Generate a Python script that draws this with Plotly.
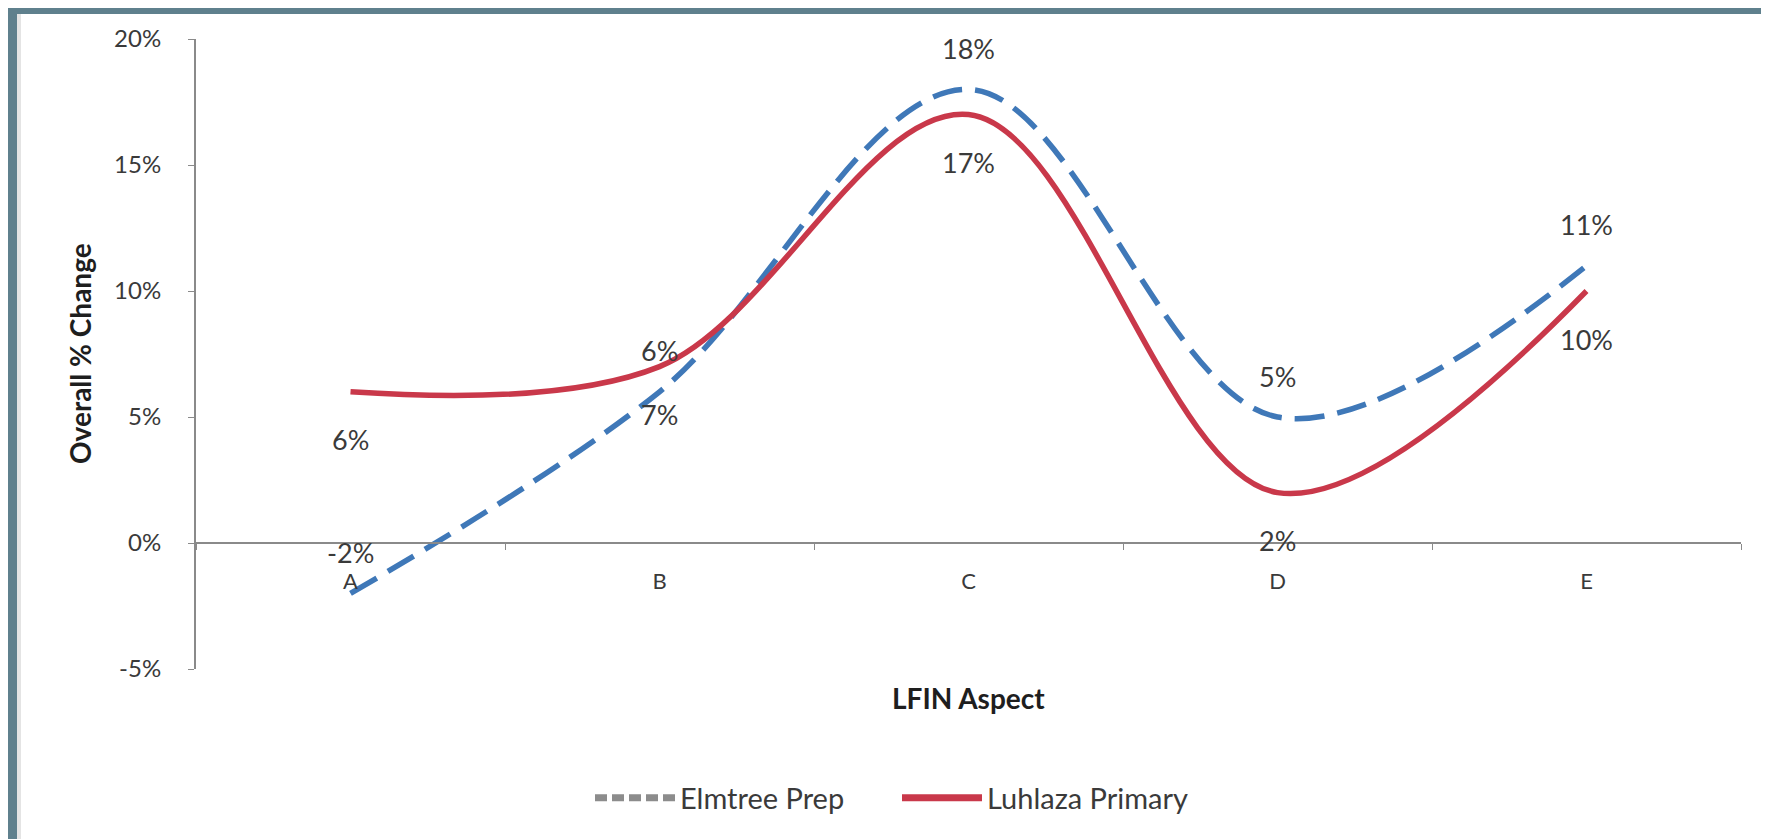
import plotly.graph_objects as go

categories = ["A", "B", "C", "D", "E"]
elmtree = [-2, 6, 18, 5, 11]
luhlaza = [6, 7, 17, 2, 10]
y_ticks = [-5, 0, 5, 10, 15, 20]
y_tick_text = [f"{v}%" for v in y_ticks]

W, H = 1769, 839
L, R, T, B = 188, 36, 31, 178
FONT = "Lato, Open Sans, sans-serif"
TXT = "#3a3a3a"
AX = "#8a8a8a"
BLUE = "#3f78b8"
RED = "#c9384a"
SLATE = "#5f808d"

pw, ph = W - L - R, H - T - B
def px_x(p):
    return (p - L) / pw
def px_y(p):
    return (H - B - p) / ph

fig = go.Figure()
fig.add_trace(go.Scatter(x=categories, y=elmtree, mode="lines", name="Elmtree Prep",
                         line=dict(color=BLUE, width=5.5, dash="30px,13px", shape="spline", smoothing=1.0),
                         showlegend=False))
fig.add_trace(go.Scatter(x=categories, y=luhlaza, mode="lines", name="Luhlaza Primary",
                         line=dict(color=RED, width=5.5, shape="spline", smoothing=1.0),
                         showlegend=False))
# legend entries (legend shows grey dashes for Elmtree as in the reference)
fig.add_trace(go.Scatter(x=[None], y=[None], mode="lines", name="Elmtree Prep",
                         line=dict(color="#8c8c8c", width=7, dash="12px,5px")))
fig.add_trace(go.Scatter(x=[None], y=[None], mode="lines", name="Luhlaza Primary",
                         line=dict(color=RED, width=7)))

for c, v in zip(categories, elmtree):
    fig.add_annotation(x=c, y=v, text=f"{v}%", showarrow=False, yshift=41,
                       font=dict(family=FONT, size=27, color=TXT))
for c, v in zip(categories, luhlaza):
    fig.add_annotation(x=c, y=v, text=f"{v}%", showarrow=False, yshift=-48,
                       font=dict(family=FONT, size=27, color=TXT))

# axis titles
fig.add_annotation(xref="paper", yref="paper", x=0.5, y=px_y(690), xanchor="center", yanchor="middle",
                   text="<b>LFIN Aspect</b>", showarrow=False,
                   font=dict(family=FONT, size=28, color="#1e1e1e"))
fig.add_annotation(xref="paper", yref="paper", x=px_x(72), y=0.5, xanchor="center", yanchor="middle",
                   text="<b>Overall % Change</b>", textangle=-90, showarrow=False,
                   font=dict(family=FONT, size=28, color="#1e1e1e"))

# frame: white panel on slate background
fig.add_shape(type="rect", xref="paper", yref="paper", layer="below",
              x0=px_x(9), x1=px_x(W + 5), y0=px_y(836), y1=px_y(6),
              fillcolor="white", line=dict(width=0))
fig.add_shape(type="rect", xref="paper", yref="paper", layer="below",
              x0=px_x(9), x1=px_x(13), y0=px_y(836), y1=px_y(6),
              fillcolor="#e4e4e4", line=dict(width=0))
fig.add_shape(type="rect", xref="paper", yref="paper", layer="below",
              x0=px_x(9), x1=px_x(W + 5), y0=px_y(839), y1=px_y(836),
              fillcolor="#d8d8d8", line=dict(width=0))

ymin, ymax = -5, 20
fig.update_layout(
    width=W, height=H,
    margin=dict(l=L, r=R, t=T, b=B, pad=0, autoexpand=False),
    paper_bgcolor=SLATE, plot_bgcolor="rgba(0,0,0,0)",
    font=dict(family=FONT, size=24, color=TXT),
    legend=dict(orientation="h", x=px_x(889), xanchor="center", y=px_y(790), yanchor="middle",
                font=dict(family=FONT, size=29, color=TXT), bgcolor="rgba(0,0,0,0)",
                itemwidth=80, entrywidth=212, traceorder="normal"),
    xaxis=dict(type="category", anchor="free", position=(0 - ymin) / (ymax - ymin),
               showline=True, linecolor=AX, linewidth=2, ticks="outside", tickson="boundaries",
               ticklen=6, tickcolor=AX, showgrid=False, zeroline=False, automargin=False,
               ticklabelstandoff=19, tickfont=dict(family=FONT, size=22, color=TXT),
               range=[-0.5, 4.5]),
    yaxis=dict(range=[ymin, ymax], tickvals=y_ticks, ticktext=y_tick_text, showline=True,
               linecolor=AX, linewidth=2, ticks="outside", ticklen=6, tickcolor=AX,
               showgrid=False, zeroline=False, ticklabelstandoff=22, automargin=False,
               tickfont=dict(family=FONT, size=24, color=TXT)),
)

fig.write_html("out.html")
